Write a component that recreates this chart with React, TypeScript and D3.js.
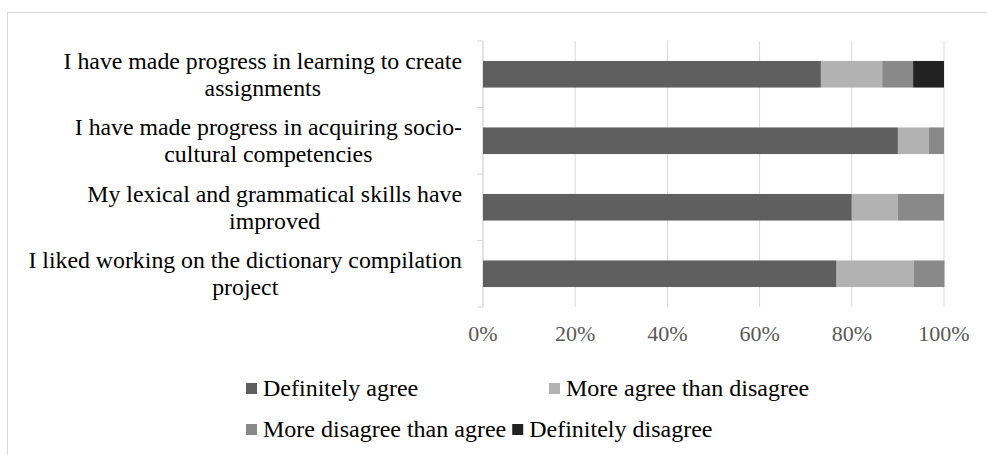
import React from "react";
import * as d3 from "d3";

const categories = [
  "I have made progress in learning to create assignments",
  "I have made progress in acquiring socio-cultural competencies",
  "My lexical and grammatical skills have improved",
  "I liked working on the dictionary compilation project",
];
const categoryLines = [
  ["I have made progress in learning to create", "assignments"],
  ["I have made progress in acquiring socio-", "cultural competencies"],
  ["My lexical and grammatical skills have", "improved"],
  ["I liked working on the dictionary compilation", "project"],
];
const seriesNames = [
  "Definitely agree",
  "More agree than disagree",
  "More disagree than agree",
  "Definitely disagree",
];
const definitelyAgree = [73.3, 90, 80, 76.7];
const moreAgree = [13.3, 6.7, 10, 16.7];
const moreDisagree = [6.7, 3.3, 10, 6.7];
const definitelyDisagree = [6.7, 0, 0, 0];
const xTicks = [0, 20, 40, 60, 80, 100];
const colors = ["#5f5f5f", "#b2b2b2", "#898989", "#222222"];

const FONT = "'Liberation Serif', 'Times New Roman', serif";
const CAT_FS = 23.8;
const TICK_FS = 22;
const LEG_FS = 24;

function measure(text: string, size: number) {
  const c = document.createElement("canvas");
  const ctx = c.getContext("2d")!;
  ctx.font = `${size}px 'Liberation Serif'`;
  return ctx.measureText(text).width;
}

export default function App() {
  const W = 987, H = 455;
  const x = d3.scaleLinear().domain([0, 100]).range([483, 944]);
  const y = d3.scaleBand<string>().domain(categories).range([41, 307]).paddingInner(0.6).paddingOuter(0.3);
  const rows = categories.map((c, i) => ({
    cat: c,
    s0: definitelyAgree[i],
    s1: moreAgree[i],
    s2: moreDisagree[i],
    s3: definitelyDisagree[i],
  }));
  const stack = d3.stack<any>().keys(["s0", "s1", "s2", "s3"])(rows);
  const step = y.step();
  const boundaries = categories.map((c) => (y(c) as number) - (step - y.bandwidth()) / 2);
  boundaries.push(boundaries[boundaries.length - 1] + step);

  const sw = 11;
  const gapText = 6;
  const row2x2 = 246 + sw + gapText + measure(seriesNames[2], LEG_FS) + 6;
  const legendItems = [
    { i: 0, x: 246, y: 396 },
    { i: 1, x: 549, y: 396 },
    { i: 2, x: 246, y: 437 },
    { i: 3, x: row2x2, y: 437 },
  ];

  return (
    <svg width={W} height={H} style={{ position: "absolute", left: 0, top: 0, background: "#fff" }}>
      <rect x={7.5} y={12.5} width={1000} height={500} fill="#fff" stroke="#d9d9d9" />
      {xTicks.map((t) => (
        <line key={t} x1={x(t)} x2={x(t)} y1={41} y2={307} stroke="#d9d9d9" strokeWidth={1} />
      ))}
      <line x1={x(0)} x2={x(0)} y1={41} y2={307} stroke="#d9d9d9" />
      {boundaries.map((b, i) => (
        <line key={i} x1={x(0) - 6} x2={x(0)} y1={b} y2={b} stroke="#d9d9d9" />
      ))}
      {stack.map((s, si) => (
        <g key={si} fill={colors[si]}>
          {s.map((d: any, di: number) => (
            <rect
              key={di}
              x={x(d[0])}
              y={y(d.data.cat)}
              width={Math.max(0, x(d[1]) - x(d[0]))}
              height={y.bandwidth()}
            />
          ))}
        </g>
      ))}
      {categoryLines.map((lines, i) => {
        const maxW = Math.max(...lines.map((l) => measure(l, CAT_FS)));
        const cx = 462 - maxW / 2;
        const cy = (y(categories[i]) as number) + y.bandwidth() / 2;
        return (
          <g key={i} fontFamily={FONT} fontSize={CAT_FS} fill="#000" textAnchor="middle">
            {lines.map((l, li) => (
              <text key={li} x={cx} y={cy + (li - (lines.length - 1) / 2) * 27 + 8}>
                {l}
              </text>
            ))}
          </g>
        );
      })}
      {xTicks.map((t) => (
        <text key={t} x={x(t)} y={341} textAnchor="middle" fontFamily={FONT} fontSize={TICK_FS} fill="#595959">
          {t}%
        </text>
      ))}
      {legendItems.map((it) => (
        <g key={it.i}>
          <rect x={it.x} y={it.y - 13} width={sw} height={sw} fill={colors[it.i]} />
          <text x={it.x + sw + gapText} y={it.y} fontFamily={FONT} fontSize={LEG_FS} fill="#000">
            {seriesNames[it.i]}
          </text>
        </g>
      ))}
    </svg>
  );
}
